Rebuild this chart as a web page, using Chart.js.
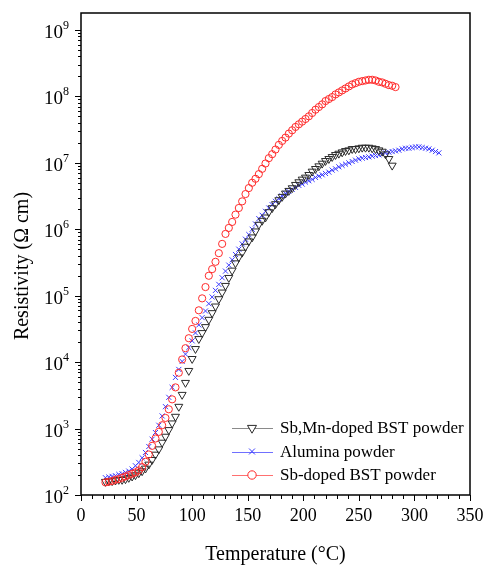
<!DOCTYPE html>
<html><head><meta charset="utf-8">
<script src="https://cdn.jsdelivr.net/npm/chart.js@4.4.0/dist/chart.umd.min.js"></script>
<style>html,body{margin:0;padding:0;background:#fff;}</style>
</head><body>
<canvas id="c" width="486" height="569"></canvas>
<script>
// ---------- DATA ----------
const seriesLabels = ['Sb,Mn-doped BST powder', 'Alumina powder', 'Sb-doped BST powder'];

// Sb,Mn-doped BST powder (temperature in °C, log10 of resistivity in Ω cm)
const sbMnTemps = [22,25,28,31,34,37,40,43,46,49,52,55,58,61,64,67,70,73,76,79,82,85,88,91,94,97,100,103,106,109,112,115,118,121,124,127,130,133,136,139,142,145,148,151,154,157,160,163,166,169,172,175,178,181,184,187,190,193,196,199,202,205,208,211,214,217,220,223,226,229,232,235,238,241,244,247,250,253,256,259,262,265,268,271,274,277,280];
const sbMnLogRes = [2.20,2.21,2.21,2.22,2.23,2.23,2.24,2.26,2.28,2.30,
  2.33,2.36,2.40,2.46,2.53,2.61,2.69,2.79,2.88,2.98,
  3.08,3.18,3.33,3.51,3.69,3.87,4.05,4.20,4.35,4.44,
  4.53,4.64,4.74,4.84,4.95,5.05,5.15,5.27,5.38,5.49,
  5.58,5.65,5.74,5.82,5.88,5.97,6.07,6.13,6.18,6.26,
  6.32,6.38,6.44,6.49,6.54,6.58,6.62,6.67,6.71,6.75,
  6.78,6.82,6.87,6.91,6.95,6.99,7.03,7.06,7.09,7.12,
  7.14,7.16,7.18,7.19,7.21,7.21,7.22,7.23,7.23,7.23,
  7.22,7.21,7.19,7.17,7.13,7.06,6.96];

// Alumina powder
const aluminaTemps = [22,25,28,31,34,37,40,43,46,49,52,55,58,61,64,67,70,73,76,79,82,85,88,91,94,97,100,103,106,109,112,115,118,121,124,127,130,133,136,139,142,145,148,151,154,157,160,163,166,169,172,175,178,181,184,187,190,193,196,199,202,205,208,211,214,217,220,223,226,229,232,235,238,241,244,247,250,253,256,259,262,265,268,271,274,277,280,283,286,289,292,295,298,301,304,307,310,313,316,319,322];
const aluminaLogRes = [2.26,2.27,2.28,2.29,2.31,2.32,2.34,2.36,2.39,2.44,
  2.49,2.56,2.64,2.73,2.84,2.94,3.05,3.19,3.33,3.47,
  3.62,3.77,3.89,4.01,4.12,4.22,4.32,4.44,4.56,4.67,
  4.77,4.88,4.98,5.08,5.17,5.27,5.37,5.46,5.54,5.62,
  5.70,5.78,5.85,5.92,6.00,6.08,6.16,6.21,6.27,6.32,
  6.37,6.42,6.46,6.50,6.54,6.57,6.60,6.63,6.66,6.68,
  6.71,6.73,6.75,6.78,6.80,6.82,6.84,6.86,6.89,6.91,
  6.94,6.96,6.98,7.00,7.02,7.04,7.06,7.07,7.08,7.09,
  7.10,7.11,7.12,7.13,7.15,7.16,7.17,7.18,7.19,7.21,
  7.22,7.22,7.23,7.24,7.24,7.23,7.22,7.21,7.19,7.17,
  7.15];

// Sb-doped BST powder
const sbTemps = [22,25,28,31,34,37,40,43,46,49,52,55,58,61,64,67,70,73,76,79,82,85,88,91,94,97,100,103,106,109,112,115,118,121,124,127,130,133,136,139,142,145,148,151,154,157,160,163,166,169,172,175,178,181,184,187,190,193,196,199,202,205,208,211,214,217,220,223,226,229,232,235,238,241,244,247,250,253,256,259,262,265,268,271,274,277,280,283];
const sbLogRes = [2.19,2.20,2.21,2.23,2.24,2.26,2.28,2.30,2.32,2.34,
  2.37,2.42,2.50,2.61,2.74,2.85,2.95,3.05,3.16,3.29,
  3.44,3.62,3.84,4.04,4.21,4.36,4.50,4.62,4.78,4.96,
  5.13,5.30,5.40,5.51,5.64,5.78,5.93,6.02,6.11,6.22,
  6.32,6.42,6.53,6.62,6.70,6.76,6.83,6.91,6.99,7.07,
  7.13,7.20,7.27,7.33,7.38,7.44,7.49,7.54,7.58,7.62,
  7.66,7.70,7.75,7.80,7.84,7.88,7.93,7.96,7.99,8.03,
  8.06,8.09,8.12,8.15,8.18,8.20,8.22,8.23,8.24,8.25,
  8.25,8.24,8.22,8.21,8.19,8.17,8.16,8.14];

// axis ticks
const xTickMin = 0, xTickMax = 350, xMajorStep = 50, xMinorStep = 10;
const yDecadeExponents = [2,3,4,5,6,7,8,9];
const yMin = 1e2, yMax = 1.8e9;

// ---------- STYLE ----------
const FONT = '"Liberation Serif", "Times New Roman", serif';
const styles = [
  {pointStyle:'triangle', rotation:180, radius:4.6, color:'#2a2a2a', legendLine:'#8a8a8a', order:1},
  {pointStyle:'crossRot', rotation:0, radius:3.6, color:'#3a3aff', legendLine:'#7070ff', order:2},
  {pointStyle:'circle', rotation:0, radius:3.6, color:'#ff2a2a', legendLine:'#ff7070', order:0}
];
const seriesData = [[sbMnTemps, sbMnLogRes],[aluminaTemps, aluminaLogRes],[sbTemps, sbLogRes]];

const toPoints = (ts, ls) => ts.map((t, i) => ({x: t, y: Math.pow(10, ls[i])}));

const datasets = seriesData.map((d, i) => ({
  label: seriesLabels[i],
  data: toPoints(d[0], d[1]),
  showLine: false,
  pointStyle: styles[i].pointStyle,
  rotation: styles[i].rotation,
  pointRadius: styles[i].radius,
  pointBorderColor: styles[i].color,
  pointBackgroundColor: 'rgba(0,0,0,0)',
  pointBorderWidth: 1,
  order: styles[i].order
}));

const decor = {
  id: 'decor',
  afterDraw(chart) {
    const {ctx, chartArea: a, scales: {x, y}} = chart;
    ctx.save();
    // ticks
    ctx.strokeStyle = '#000';
    ctx.lineWidth = 1;
    ctx.beginPath();
    for (let t = xTickMin; t <= xTickMax; t += xMinorStep) {
      const px = Math.round(x.getPixelForValue(t)) + 0.5;
      const len = (t % xMajorStep === 0) ? 6 : 4;
      ctx.moveTo(px, a.bottom); ctx.lineTo(px, a.bottom + len);
    }
    yDecadeExponents.forEach(e => {
      for (let k = 1; k <= 9; k++) {
        const v = k * Math.pow(10, e);
        if (v > y.max) break;
        const py = Math.round(y.getPixelForValue(v)) + 0.5;
        const len = k === 1 ? 6 : 3;
        ctx.moveTo(a.left, py); ctx.lineTo(a.left - len, py);
      }
    });
    ctx.stroke();
    // frame
    ctx.lineWidth = 1.5;
    ctx.strokeRect(a.left, a.top, a.right - a.left, a.bottom - a.top);

    // y tick labels 10^n
    ctx.fillStyle = '#000';
    ctx.textAlign = 'right';
    ctx.textBaseline = 'alphabetic';
    const labelRight = a.left - 12;
    yDecadeExponents.forEach(e => {
      const py = y.getPixelForValue(Math.pow(10, e));
      ctx.font = '12px ' + FONT;
      const ew = ctx.measureText(String(e)).width;
      ctx.fillText(String(e), labelRight, py - 1);
      ctx.font = '19px ' + FONT;
      ctx.fillText('10', labelRight - ew, py + 8);
    });

    // y axis title
    ctx.save();
    ctx.translate(23, 266);
    ctx.rotate(-Math.PI / 2);
    ctx.textAlign = 'center';
    ctx.textBaseline = 'middle';
    ctx.font = '20px ' + FONT;
    ctx.fillText('Resistivity (\u03A9 cm)', 0, 0);
    ctx.restore();

    // legend
    const lx0 = a.right - 238, lx1 = a.right - 197, mx = a.right - 218, tx = a.right - 190;
    seriesLabels.forEach((lab, i) => {
      const ly = a.bottom - 67 + i * 23.5;
      ctx.strokeStyle = styles[i].legendLine;
      ctx.lineWidth = 1;
      ctx.beginPath();
      ctx.moveTo(lx0, Math.round(ly) + 0.5); ctx.lineTo(lx1, Math.round(ly) + 0.5);
      ctx.stroke();
      ctx.strokeStyle = styles[i].color;
      ctx.fillStyle = '#fff';
      Chart.helpers.drawPoint(ctx, {pointStyle: styles[i].pointStyle, rotation: styles[i].rotation, radius: styles[i].radius + 0.6, borderWidth: 1}, mx, ly);
      ctx.fillStyle = '#000';
      ctx.font = '17px ' + FONT;
      ctx.textAlign = 'left';
      ctx.textBaseline = 'middle';
      ctx.fillText(lab, tx, ly + 1);
    });
    ctx.restore();
  }
};

new Chart(document.getElementById('c'), {
  type: 'scatter',
  data: {datasets},
  options: {
    responsive: false,
    animation: false,
    devicePixelRatio: 1,
    layout: {padding: {left: 0, right: 16, top: 13, bottom: 0}},
    plugins: {legend: {display: false}, tooltip: {enabled: false}},
    scales: {
      x: {
        type: 'linear', min: xTickMin, max: xTickMax,
        ticks: {stepSize: xMajorStep, color: '#000', font: {family: FONT, size: 18}, padding: 10, maxRotation: 0},
        grid: {display: false, drawTicks: false},
        border: {display: false},
        title: {display: true, text: 'Temperature (\u00B0C)', color: '#000', font: {family: FONT, size: 20}, padding: {top: 0, bottom: 2}},
        afterFit(s) { s.height = 74; s.paddingLeft = 0; s.paddingRight = 0; }
      },
      y: {
        type: 'logarithmic', min: yMin, max: yMax,
        ticks: {display: false},
        grid: {display: false, drawTicks: false},
        border: {display: false},
        afterFit(s) { s.width = 81; s.paddingTop = 0; s.paddingBottom = 0; }
      }
    }
  },
  plugins: [decor]
});
</script>
</body></html>
